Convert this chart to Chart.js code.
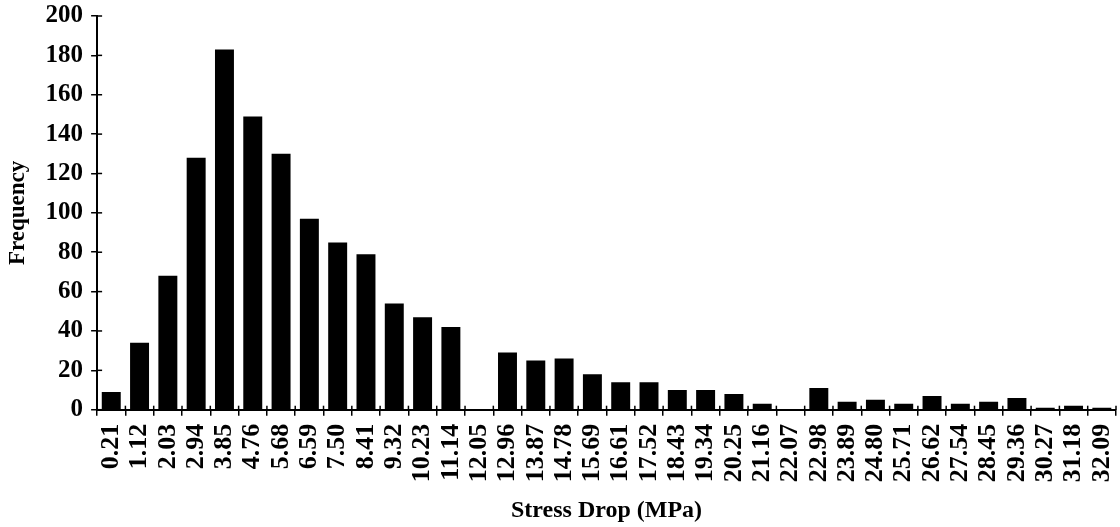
<!DOCTYPE html>
<html>
<head>
<meta charset="utf-8">
<script src="https://cdn.jsdelivr.net/npm/chart.js@4/dist/chart.umd.min.js"></script>
<style>
  html,body{margin:0;padding:0;background:#fff;}
  #wrap{width:1120px;height:527px;position:relative;}
</style>
</head>
<body>
<div id="wrap"><canvas id="c" width="1120" height="527"></canvas></div>
<script>
/* ===== DATA ===== */
const stressLabels=['0.21','1.12','2.03','2.94','3.85','4.76','5.68','6.59','7.50','8.41','9.32','10.23',
  '11.14','12.05','12.96','13.87','14.78','15.69','16.61','17.52','18.43','19.34','20.25','21.16',
  '22.07','22.98','23.89','24.80','25.71','26.62','27.54','28.45','29.36','30.27','31.18','32.09'];
const frequency=[9,34,68,128,183,149,130,97,85,79,54,47,
  42,0,29,25,26,18,14,14,10,10,8,3,
  0,11,4,5,3,7,3,4,6,1,2,1];
const yTicks={min:0,max:200,step:20};

const FONT='"Liberation Serif","Times New Roman",serif';

// small tick marks on the inner side of both axes (ticks cross the axis line)
const crossTicks={
  id:'crossTicks',
  afterDraw(chart){
    const {ctx,scales:{x,y}}=chart;
    ctx.save();
    ctx.strokeStyle='#000';ctx.lineWidth=1.5;
    y.ticks.forEach((t,i)=>{
      const py=y.getPixelForTick(i);
      ctx.beginPath();ctx.moveTo(y.right,py);ctx.lineTo(y.right+5,py);ctx.stroke();
    });
    const w=x.getPixelForTick(1)-x.getPixelForTick(0);
    for(let i=0;i<=x.ticks.length;i++){
      const px=x.getPixelForTick(0)-w/2+i*w;
      ctx.beginPath();ctx.moveTo(px,x.top);ctx.lineTo(px,x.top-4);ctx.stroke();
    }
    ctx.restore();
  }
};

new Chart(document.getElementById('c').getContext('2d'),{
  type:'bar',
  data:{
    labels:stressLabels,
    datasets:[{data:frequency,backgroundColor:'#000',borderWidth:0,barPercentage:0.67,categoryPercentage:1}]
  },
  options:{
    responsive:false,animation:false,
    layout:{padding:{top:0,right:4,left:4,bottom:2}},
    plugins:{legend:{display:false},tooltip:{enabled:false}},
    scales:{
      x:{
        afterFit(s){s.paddingRight=0;},
        grid:{drawOnChartArea:false,offset:true,color:'#000',lineWidth:1.5,tickLength:6},
        border:{color:'#000',width:2},
        ticks:{color:'#000',font:{family:FONT,size:26,weight:'bold',lineHeight:1},minRotation:90,maxRotation:90,autoSkip:false,padding:8},
        title:{display:true,text:'Stress Drop (MPa)',color:'#000',font:{family:FONT,size:24,weight:'bold'},padding:{top:6,bottom:0}}
      },
      y:{
        afterFit(s){s.paddingTop=16;},
        min:yTicks.min,max:yTicks.max,
        grid:{drawOnChartArea:false,color:'#000',lineWidth:1.5,tickLength:6},
        border:{color:'#000',width:2},
        ticks:{stepSize:yTicks.step,color:'#000',font:{family:FONT,size:25,weight:'bold',lineHeight:1},padding:8},
        title:{display:true,text:'Frequency',color:'#000',font:{family:FONT,size:23,weight:'bold'},padding:{top:0,bottom:6}}
      }
    }
  },
  plugins:[crossTicks]
});
</script>
</body>
</html>
